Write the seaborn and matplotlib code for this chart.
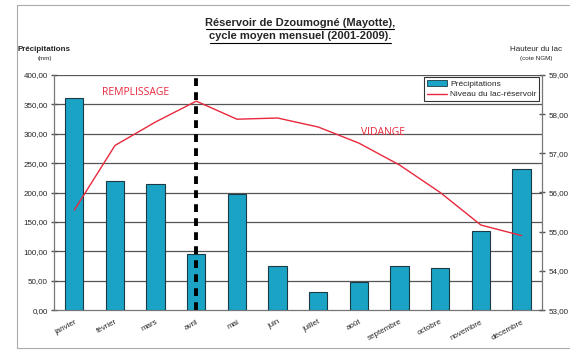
import numpy as np
import pandas as pd
import matplotlib
matplotlib.use("Agg")
import matplotlib.pyplot as plt
import seaborn as sns
from matplotlib.patches import Patch, Rectangle
from matplotlib.lines import Line2D
from matplotlib.ticker import FuncFormatter, MultipleLocator

months = ["janvier", "février", "mars", "avril", "mai", "juin", "juillet",
          "août", "septembre", "octobre", "novembre", "décembre"]
precip = [360, 220, 215, 95, 197, 75, 30, 47, 75, 72, 135, 240]
lake = [55.55, 57.2, 57.8, 58.33, 57.87, 57.9, 57.67, 57.26, 56.7, 56.0, 55.17, 54.9]

sns.set_theme(style="white")
plt.rcParams['font.family'] = ['Liberation Sans', 'DejaVu Sans']

fig = plt.figure(figsize=(5.7, 3.5), dpi=100)
ax = fig.add_axes([0.0947, 0.114, 0.856, 0.672])

df = pd.DataFrame({"mois": months, "precip": precip})
bar_color = "#1BA3C6"
sns.barplot(data=df, x="mois", y="precip", ax=ax, color=bar_color,
            width=0.45, edgecolor="#1a3a44", linewidth=0.8, saturation=1, zorder=3)

ax.set_ylim(0, 400)
ax.set_xlim(-0.5, 11.5)
ax.yaxis.set_major_locator(MultipleLocator(50))
fmt = FuncFormatter(lambda v, p: f"{v:.2f}".replace(".", ","))
ax.yaxis.set_major_formatter(fmt)
for yv in range(50, 401, 50):
    ax.axhline(yv, color="#555555", lw=0.9, zorder=1)
ax.set_xlabel("")
ax.set_ylabel("")
ax.set_xticks(range(12))
ax.set_xticklabels(months, rotation=28, ha="right", fontsize=5.8, rotation_mode="anchor")
ax.tick_params(axis="x", length=0, pad=6)
ax.set_xticks(np.arange(-0.5, 12, 1), minor=True)
ax.tick_params(axis="x", which="minor", length=3, color="#555555", direction="inout")
ax.tick_params(axis="y", labelsize=5.8, length=5, width=1, direction="inout",
               color="#555555", pad=2)
for side in ["top", "right"]:
    ax.spines[side].set_visible(False)
for side in ["left", "bottom"]:
    ax.spines[side].set_color("#777777")
    ax.spines[side].set_linewidth(0.9)

# dashed separation line
ax.axvline(3, color="black", lw=2.8, ls=(0, (2, 1.6)), zorder=6)

ax2 = ax.twinx()
sns.lineplot(x=np.arange(12), y=lake, ax=ax2, color="#E8283C", lw=1.0, zorder=5)
ax2.set_ylim(53, 59)
ax2.set_xlim(-0.5, 11.5)
ax2.yaxis.set_major_formatter(fmt)
ax2.tick_params(axis="y", labelsize=5.8, length=5, width=1, direction="inout",
                color="#555555", pad=2)
for side in ["top", "left", "bottom"]:
    ax2.spines[side].set_visible(False)
ax2.spines["right"].set_color("#777777")
ax2.spines["right"].set_linewidth(0.9)
ax2.set_ylabel("")

ax.text(1.5, 370, "REMPLISSAGE", color="#E8283C", fontsize=7.5, ha="center",
        va="center", family=["Open Sans", "DejaVu Sans"], zorder=7)
ax.text(7.6, 302, "VIDANGE", color="#E8283C", fontsize=7.5, ha="center",
        va="center", family=["Open Sans", "DejaVu Sans"], zorder=7)

handles = [Patch(facecolor=bar_color, edgecolor="#1a3a44", lw=0.6),
           Line2D([0], [0], color="#E8283C", lw=1.0)]
leg = ax2.legend(handles, ["Précipitations", "Niveau du lac-réservoir"],
                 loc="upper right", fontsize=6, frameon=True, fancybox=False,
                 edgecolor="black", borderaxespad=0.3, handlelength=2.4,
                 borderpad=0.35, labelspacing=0.3, handletextpad=0.4)
leg.get_frame().set_linewidth(0.8)
leg.set_zorder(10)

fig.text(0.527, 0.935, "Réservoir de Dzoumogné (Mayotte),", ha="center", va="center",
         fontsize=8, fontweight="bold")
fig.text(0.527, 0.897, "cycle moyen mensuel (2001-2009).", ha="center", va="center",
         fontsize=8, fontweight="bold")
fig.add_artist(Line2D([0.362, 0.692], [0.916, 0.916], color="black", lw=0.8))
fig.add_artist(Line2D([0.368, 0.686], [0.878, 0.878], color="black", lw=0.8))

fig.text(0.078, 0.858, "Précipitations", ha="center", va="center", fontsize=5.8, fontweight="bold")
fig.text(0.078, 0.832, "(mm)", ha="center", va="center", fontsize=4.5)
fig.text(0.94, 0.858, "Hauteur du lac", ha="center", va="center", fontsize=5.8)
fig.text(0.94, 0.832, "(cote NGM)", ha="center", va="center", fontsize=4.5)

fig.add_artist(Rectangle((0.03, 0.006), 0.975, 0.98, transform=fig.transFigure,
                         fill=False, edgecolor="#aaaaaa", lw=0.8))

fig.savefig("out.png", dpi=100)
